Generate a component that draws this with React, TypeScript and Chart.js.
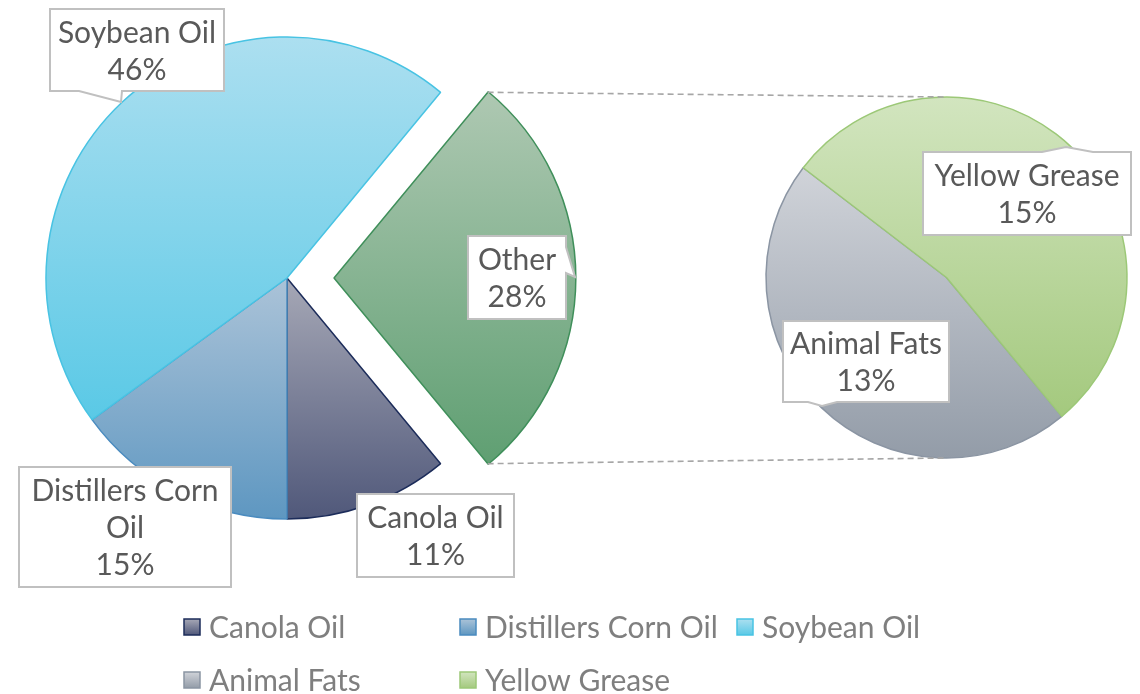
import React, { useEffect, useRef } from "react";
import { Chart, registerables } from "chart.js";

Chart.register(...registerables);

// ---------------- data ----------------
const mainLabels = ["Other", "Canola Oil", "Distillers Corn Oil", "Soybean Oil"];
const mainValues = [28, 11, 15, 46];
const subLabels = ["Animal Fats", "Yellow Grease"];
const subValues = [13, 15];
const legendLabels = ["Canola Oil", "Distillers Corn Oil", "Soybean Oil", "Animal Fats", "Yellow Grease"];

// ---------------- styles / layout ----------------
const W = 1140;
const H = 694;
const FONT = "Lato, 'Open Sans', sans-serif";
const LABEL_COLOR = "#595959";
const LEGEND_COLOR = "#7f7f7f";

const COLORS: Record<string, { top: string; bottom: string; border: string }> = {
  "Other": { top: "#aec8b2", bottom: "#5f9f72", border: "#3f8f5a" },
  "Canola Oil": { top: "#a6a8b6", bottom: "#50587a", border: "#1c2c5a" },
  "Distillers Corn Oil": { top: "#abc3d8", bottom: "#5e97c1", border: "#4a8bbf" },
  "Soybean Oil": { top: "#acdff0", bottom: "#5ac9e6", border: "#48c3e3" },
  "Animal Fats": { top: "#d0d3d9", bottom: "#939ca8", border: "#8b95a3" },
  "Yellow Grease": { top: "#d2e5bf", bottom: "#a4c97e", border: "#9cc877" },
};

const MAIN = { cx: 287, cy: 278, r: 241, explode: 47 };
const SUB = { cx: 946.5, cy: 277.5, r: 180.5, startDeg: 50.3 };

type Tail = { edge: "top" | "right" | "bottom"; a: number; b: number; tx: number; ty: number };
type Callout = { label: string; x0: number; y0: number; x1: number; y1: number; tail?: Tail };

const CALLOUTS: Callout[] = [
  { label: "Soybean Oil", x0: 50, y0: 9, x1: 224, y1: 91, tail: { edge: "bottom", a: 79, b: 122, tx: 121, ty: 102 } },
  { label: "Other", x0: 468, y0: 236, x1: 566, y1: 319, tail: { edge: "right", a: 247, b: 273, tx: 575, ty: 277 } },
  { label: "Distillers Corn Oil", x0: 19, y0: 467, x1: 231, y1: 587 },
  { label: "Canola Oil", x0: 357, y0: 494, x1: 514, y1: 577 },
  { label: "Yellow Grease", x0: 923, y0: 152, x1: 1131, y1: 235, tail: { edge: "top", a: 1042, b: 1093, tx: 1066, ty: 147 } },
  { label: "Animal Fats", x0: 783, y0: 321, x1: 949, y1: 402, tail: { edge: "bottom", a: 808, b: 837, tx: 822, ty: 406 } },
];

const LEGEND_POS: [number, number][] = [
  [184, 627],
  [460, 627],
  [737, 627],
  [184, 680],
  [460, 680],
];

// ---------------- helpers ----------------
const sum = (a: number[]) => a.reduce((s, v) => s + v, 0);

function sliceYRange(cy: number, r: number, a0: number, a1: number): [number, number] {
  const ys = [cy, cy + r * Math.sin(a0), cy + r * Math.sin(a1)];
  for (let k = -4; k <= 6; k++) {
    const a = Math.PI / 2 + k * Math.PI;
    if (a > a0 && a < a1) ys.push(cy + r * Math.sin(a));
  }
  return [Math.min(...ys), Math.max(...ys)];
}

function makeGradients(
  ctx: CanvasRenderingContext2D,
  cy: number,
  r: number,
  startDeg: number,
  values: number[],
  labels: string[]
) {
  const total = sum(values);
  let a = (startDeg * Math.PI) / 180;
  return values.map((v, i) => {
    const a1 = a + (v / total) * Math.PI * 2;
    const [ya, yb] = sliceYRange(cy, r, a, a1);
    a = a1;
    const g = ctx.createLinearGradient(0, ya, 0, yb);
    g.addColorStop(0, COLORS[labels[i]].top);
    g.addColorStop(1, COLORS[labels[i]].bottom);
    return g;
  });
}

function valueOf(label: string): number {
  const i = mainLabels.indexOf(label);
  if (i >= 0) return mainValues[i];
  return subValues[subLabels.indexOf(label)];
}

function wrap(ctx: CanvasRenderingContext2D, text: string, maxW: number): string[] {
  const words = text.split(" ");
  const lines: string[] = [];
  let cur = "";
  for (const w of words) {
    const t = cur ? cur + " " + w : w;
    if (cur && ctx.measureText(t).width > maxW) {
      lines.push(cur);
      cur = w;
    } else cur = t;
  }
  if (cur) lines.push(cur);
  return lines;
}

function drawCallout(ctx: CanvasRenderingContext2D, c: Callout) {
  const { x0, y0, x1, y1, tail } = c;
  ctx.save();
  ctx.beginPath();
  ctx.moveTo(x0, y0);
  if (tail && tail.edge === "top") {
    ctx.lineTo(tail.a, y0);
    ctx.lineTo(tail.tx, tail.ty);
    ctx.lineTo(tail.b, y0);
  }
  ctx.lineTo(x1, y0);
  if (tail && tail.edge === "right") {
    ctx.lineTo(x1, tail.a);
    ctx.lineTo(tail.tx, tail.ty);
    ctx.lineTo(x1, tail.b);
  }
  ctx.lineTo(x1, y1);
  if (tail && tail.edge === "bottom") {
    ctx.lineTo(tail.b, y1);
    ctx.lineTo(tail.tx, tail.ty);
    ctx.lineTo(tail.a, y1);
  }
  ctx.lineTo(x0, y1);
  ctx.closePath();
  ctx.fillStyle = "#ffffff";
  ctx.fill();
  ctx.lineWidth = 2;
  ctx.strokeStyle = "#c0c0c0";
  ctx.lineJoin = "miter";
  ctx.stroke();

  ctx.font = `30px ${FONT}`;
  ctx.fillStyle = LABEL_COLOR;
  ctx.textAlign = "center";
  ctx.textBaseline = "alphabetic";
  const lines = [...wrap(ctx, c.label, x1 - x0 - 2), `${valueOf(c.label)}%`];
  const cx = (x0 + x1) / 2;
  const cy = (y0 + y1) / 2;
  const lh = 37;
  lines.forEach((ln, i) => {
    const mid = cy + (i - (lines.length - 1) / 2) * lh;
    ctx.fillText(ln, cx, mid + 11);
  });
  ctx.restore();
}

function makeOverlay(getSub: () => Chart | null) {
  return {
    id: "overlay",
    afterDraw(chart: Chart) {
      const ctx = chart.ctx;
      const sub = getSub();
      // connector lines
      const arc: any = chart.getDatasetMeta(0).data[0];
      if (arc && sub) {
        const p = arc.getProps(["x", "y", "startAngle", "endAngle", "outerRadius"], true);
        const shift = (arc.options.offset || 0) / 4;
        const mid = (p.startAngle + p.endAngle) / 2;
        const ox = p.x + Math.cos(mid) * shift;
        const oy = p.y + Math.sin(mid) * shift;
        const t1 = [ox + p.outerRadius * Math.cos(p.startAngle), oy + p.outerRadius * Math.sin(p.startAngle)];
        const t2 = [ox + p.outerRadius * Math.cos(p.endAngle), oy + p.outerRadius * Math.sin(p.endAngle)];
        const sArc: any = sub.getDatasetMeta(0).data[0];
        const sp = sArc.getProps(["x", "y", "outerRadius"], true);
        ctx.save();
        ctx.strokeStyle = "#a6a6a6";
        ctx.lineWidth = 1.6;
        ctx.setLineDash([6, 4]);
        ctx.beginPath();
        ctx.moveTo(t1[0], t1[1]);
        ctx.lineTo(sp.x, sp.y - sp.outerRadius);
        ctx.moveTo(t2[0], t2[1]);
        ctx.lineTo(sp.x, sp.y + sp.outerRadius);
        ctx.stroke();
        ctx.restore();
      }
      // callouts
      CALLOUTS.forEach((c) => drawCallout(ctx, c));
      // legend
      ctx.save();
      ctx.font = `30px ${FONT}`;
      ctx.textAlign = "left";
      ctx.textBaseline = "alphabetic";
      legendLabels.forEach((lab, i) => {
        const [x, y] = LEGEND_POS[i];
        const s = 16;
        const g = ctx.createLinearGradient(0, y - s / 2, 0, y + s / 2);
        g.addColorStop(0, COLORS[lab].top);
        g.addColorStop(1, COLORS[lab].bottom);
        ctx.fillStyle = g;
        ctx.fillRect(x, y - s / 2, s, s);
        ctx.lineWidth = 1.5;
        ctx.strokeStyle = COLORS[lab].border;
        ctx.strokeRect(x, y - s / 2, s, s);
        ctx.fillStyle = LEGEND_COLOR;
        ctx.fillText(lab, x + 25, y + 11);
      });
      ctx.restore();
    },
  };
}

export default function App() {
  const mainRef = useRef<HTMLCanvasElement>(null);
  const subRef = useRef<HTMLCanvasElement>(null);

  useEffect(() => {
    const mc = mainRef.current!;
    const sc = subRef.current!;
    const mctx = mc.getContext("2d")!;
    const sctx = sc.getContext("2d")!;

    const mainStartDeg = -(mainValues[0] / sum(mainValues)) * 180;

    const subGrads = makeGradients(sctx, SUB.cy, SUB.r, SUB.startDeg, subValues, subLabels);
    const sub = new Chart(sc, {
      type: "pie",
      data: {
        labels: subLabels,
        datasets: [
          {
            data: subValues,
            backgroundColor: subGrads,
            borderColor: subLabels.map((l) => COLORS[l].border),
            borderWidth: 1.5,
            clip: false,
          } as any,
        ],
      },
      options: {
        responsive: false,
        animation: false,
        devicePixelRatio: 1,
        events: [],
        rotation: SUB.startDeg + 90,
        radius: SUB.r,
        layout: {
          padding: { left: W - 2 * (W - SUB.cx), right: 0, top: 0, bottom: H - 2 * SUB.cy },
        },
        plugins: { legend: { display: false }, tooltip: { enabled: false } },
      } as any,
    });

    const mainGrads = makeGradients(mctx, MAIN.cy, MAIN.r, mainStartDeg, mainValues, mainLabels);
    const main = new Chart(mc, {
      type: "pie",
      data: {
        labels: mainLabels,
        datasets: [
          {
            data: mainValues,
            backgroundColor: mainGrads,
            borderColor: mainLabels.map((l) => COLORS[l].border),
            borderWidth: 1.5,
            offset: mainLabels.map((_, i) => (i === 0 ? MAIN.explode * 4 : 0)),
            clip: false,
          } as any,
        ],
      },
      options: {
        responsive: false,
        animation: false,
        devicePixelRatio: 1,
        events: [],
        rotation: mainStartDeg + 90,
        radius: MAIN.r,
        layout: {
          padding: { left: 0, top: 0, right: W - 2 * MAIN.cx, bottom: H - 2 * MAIN.cy },
        },
        plugins: { legend: { display: false }, tooltip: { enabled: false } },
      } as any,
      plugins: [makeOverlay(() => sub)],
    });

    return () => {
      main.destroy();
      sub.destroy();
    };
  }, []);

  return (
    <div style={{ position: "absolute", left: 0, top: 0, width: W, height: H, background: "#ffffff", overflow: "hidden" }}>
      <canvas ref={subRef} width={W} height={H} style={{ position: "absolute", left: 0, top: 0, width: W, height: H }} />
      <canvas ref={mainRef} width={W} height={H} style={{ position: "absolute", left: 0, top: 0, width: W, height: H }} />
    </div>
  );
}
